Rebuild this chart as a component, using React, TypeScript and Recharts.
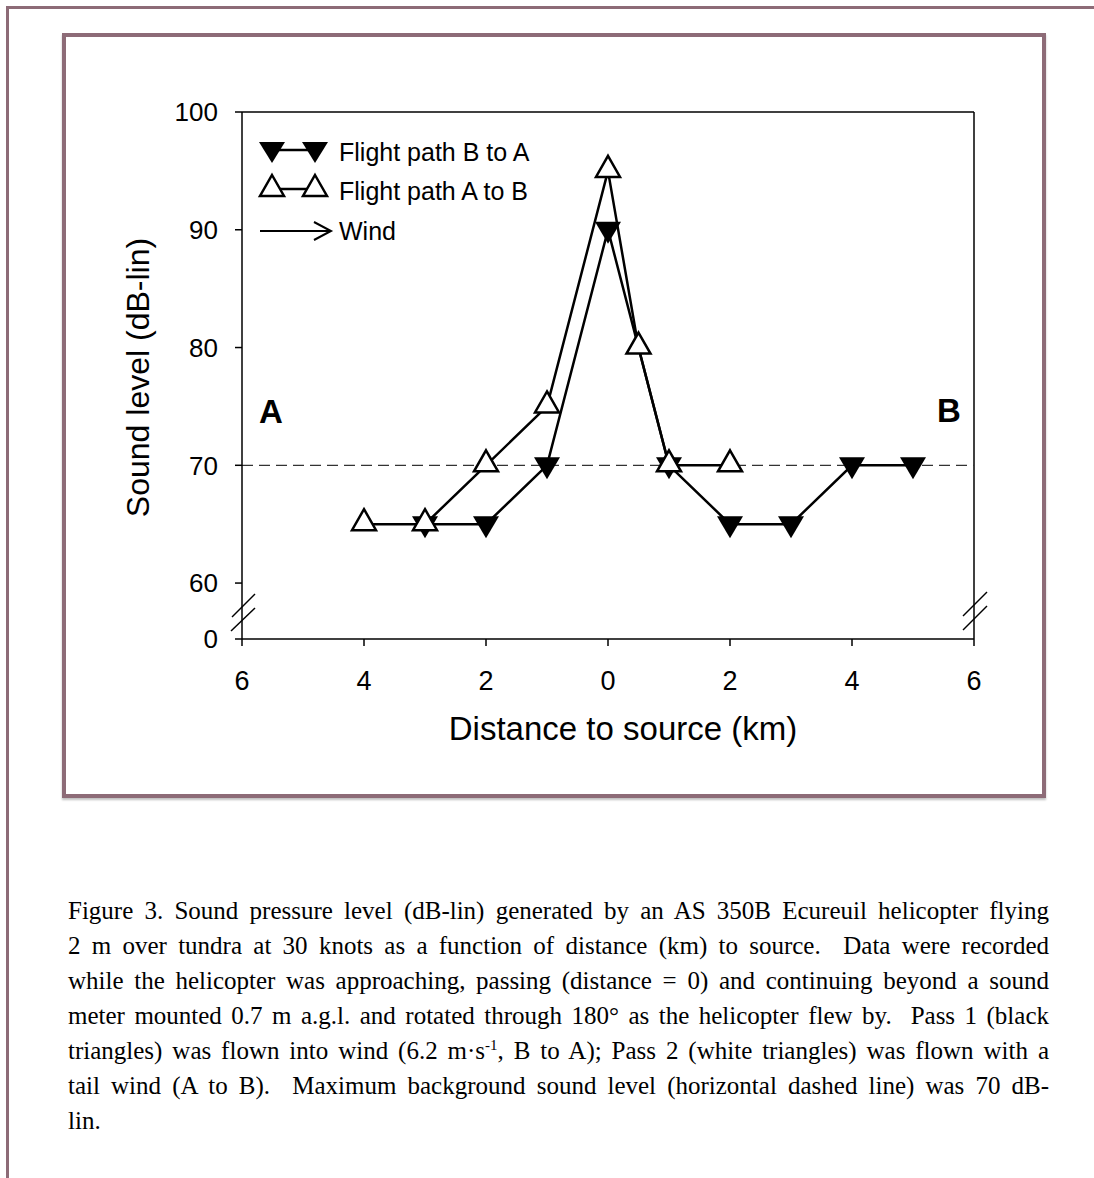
import React from 'react';
import { LineChart, Line, XAxis, YAxis, ReferenceLine, Label } from 'recharts';

// distance (km, negative = side A) and sound level (dB-lin)
const passBtoAKm = [-3, -2, -1, 0, 1, 2, 3, 4, 5];
const passBtoADb = [65, 65, 70, 90, 70, 65, 65, 70, 70];
const passAtoBKm = [-4, -3, -2, -1, 0, 0.5, 1, 2];
const passAtoBDb = [65, 65, 70, 75, 95, 80, 70, 70];

const xTicks = [-6, -4, -2, 0, 2, 4, 6];
const yBreak = 55.25; // bottom of the broken axis, labelled "0"
const yTicks = [yBreak, 60, 70, 80, 90, 100];
const backgroundLevel = 70;

const seriesBtoA = passBtoAKm.map((x, i) => ({ x, y: passBtoADb[i] }));
const seriesAtoB = passAtoBKm.map((x, i) => ({ x, y: passAtoBDb[i] }));

const SANS = '"Liberation Sans", Arial, sans-serif';
const FRAME = '#8d6b77';

const DownTri = (p: any) => {
  const { cx, cy } = p;
  if (cx == null || cy == null) return <g key={p.index} />;
  return <path key={`d${p.index}`} d={`M${cx - 13},${cy - 8}L${cx + 13},${cy - 8}L${cx},${cy + 14}Z`} fill="#000" />;
};

const UpTri = (p: any) => {
  const { cx, cy } = p;
  if (cx == null || cy == null) return <g key={p.index} />;
  return (
    <path
      key={`u${p.index}`}
      d={`M${cx},${cy - 15}L${cx + 12},${cy + 6}L${cx - 12},${cy + 6}Z`}
      fill="#fff"
      stroke="#000"
      strokeWidth={2.5}
      strokeLinejoin="miter"
    />
  );
};

const YTitle = (props: any) => {
  const vb = props.viewBox || { x: 162, y: 112, width: 80, height: 527 };
  const cx = vb.x - 24;
  const cy = vb.y + vb.height / 2 + 2;
  return (
    <text x={cx} y={cy} transform={`rotate(-90 ${cx} ${cy})`} textAnchor="middle" dominantBaseline="central" fontSize={32} fontFamily={SANS} fill="#000">
      Sound level (dB-lin)
    </text>
  );
};

const XTitle = (props: any) => {
  const vb = props.viewBox || { x: 242, y: 639, width: 732, height: 60 };
  return (
    <text x={vb.x + vb.width / 2 + 15} y={vb.y + 101} textAnchor="middle" fontSize={33} fontFamily={SANS} fill="#000">
      Distance to source (km)
    </text>
  );
};

function Overlay() {
  const tri = (cx: number, cy: number, up: boolean) =>
    up ? (
      <path d={`M${cx},${cy - 14}L${cx + 12},${cy + 7}L${cx - 12},${cy + 7}Z`} fill="#fff" stroke="#000" strokeWidth={2.5} />
    ) : (
      <path d={`M${cx - 13},${cy - 8}L${cx + 13},${cy - 8}L${cx},${cy + 13}Z`} fill="#000" />
    );
  return (
    <svg width={1094} height={800} style={{ position: 'absolute', left: 0, top: 0, pointerEvents: 'none' }}>
      <g fontFamily={SANS} fontSize={25} fill="#000">
        <line x1={272} y1={150} x2={315} y2={150} stroke="#000" strokeWidth={2.5} />
        {tri(272, 150, false)}
        {tri(315, 150, false)}
        <text x={339} y={161}>Flight path B to A</text>
        <line x1={272} y1={189} x2={315} y2={189} stroke="#000" strokeWidth={2.5} />
        {tri(272, 189, true)}
        {tri(315, 189, true)}
        <text x={339} y={200}>Flight path A to B</text>
        <line x1={260} y1={231} x2={330} y2={231} stroke="#000" strokeWidth={2} />
        <polyline points="314,222 331,231 314,240" fill="none" stroke="#000" strokeWidth={2} />
        <text x={339} y={240}>Wind</text>
      </g>
      <g fontFamily={SANS} fontSize={33} fontWeight="bold" fill="#000" textAnchor="middle">
        <text x={271} y={423}>A</text>
        <text x={949} y={422}>B</text>
      </g>
      <g stroke="#000" strokeWidth={1.5}>
        <line x1={232} y1={617} x2={255} y2={594} />
        <line x1={231} y1={631} x2={255} y2={608} />
        <line x1={963} y1={616} x2={987} y2={592} />
        <line x1={963} y1={630} x2={987} y2={606} />
      </g>
    </svg>
  );
}

const captionLines = [
  'Figure 3. Sound pressure level (dB-lin) generated by an AS 350B Ecureuil helicopter flying',
  '2 m over tundra at 30 knots as a function of distance (km) to source.\u00a0 Data were recorded',
  'while the helicopter was approaching, passing (distance = 0) and continuing beyond a sound',
  'meter mounted 0.7 m a.g.l. and rotated through 180° as the helicopter flew by.\u00a0 Pass 1 (black',
];

export default function App() {
  const lineStyle: React.CSSProperties = {
    whiteSpace: 'nowrap',
    textAlign: 'justify',
    textAlignLast: 'justify',
    height: 35,
  };
  return (
    <div style={{ position: 'absolute', left: 0, top: 0, width: 1094, height: 1178, overflow: 'hidden', background: '#fff' }}>
      <div style={{ position: 'absolute', left: 6, top: 6, width: 1200, height: 1300, borderTop: `3px solid ${FRAME}`, borderLeft: `3px solid ${FRAME}` }} />
      <div
        style={{
          position: 'absolute',
          left: 62,
          top: 33,
          width: 984,
          height: 765,
          boxSizing: 'border-box',
          border: `4px solid ${FRAME}`,
          boxShadow: '0 2px 2px rgba(0,0,0,0.25)',
        }}
      />
      <div style={{ position: 'absolute', left: 0, top: 0 }}>
        <LineChart width={1094} height={800} margin={{ top: 112, right: 120, bottom: 101, left: 162 }}>
          <XAxis
            dataKey="x"
            type="number"
            domain={[-6, 6]}
            ticks={xTicks}
            tickFormatter={(v: number) => String(Math.abs(v))}
            allowDataOverflow
            height={60}
            tick={{ fill: '#000', fontSize: 27, fontFamily: SANS }}
            tickSize={7}
            tickMargin={25}
            axisLine={{ stroke: '#000', strokeWidth: 1.5 }}
            tickLine={{ stroke: '#000', strokeWidth: 1.5 }}
          >
            <Label content={<XTitle />} />
          </XAxis>
          <YAxis
            dataKey="y"
            type="number"
            domain={[yBreak, 100]}
            ticks={yTicks}
            tickFormatter={(v: number) => (v === yBreak ? '0' : String(v))}
            allowDataOverflow
            width={80}
            tick={{ fill: '#000', fontSize: 26, fontFamily: SANS }}
            tickSize={7}
            tickMargin={17}
            axisLine={{ stroke: '#000', strokeWidth: 1.5 }}
            tickLine={{ stroke: '#000', strokeWidth: 1.5 }}
          >
            <Label content={<YTitle />} />
          </YAxis>
          <ReferenceLine y={100} stroke="#000" strokeWidth={1.5} />
          <ReferenceLine x={6} stroke="#000" strokeWidth={1.5} />
          <ReferenceLine y={backgroundLevel} stroke="#333" strokeWidth={1.2} strokeDasharray="11 6" />
          <Line
            data={seriesBtoA}
            dataKey="y"
            type="linear"
            stroke="#000"
            strokeWidth={2.5}
            dot={DownTri}
            activeDot={false}
            isAnimationActive={false}
          />
          <Line
            data={seriesAtoB}
            dataKey="y"
            type="linear"
            stroke="#000"
            strokeWidth={2.5}
            dot={UpTri}
            activeDot={false}
            isAnimationActive={false}
          />
        </LineChart>
        <Overlay />
      </div>
      <div
        style={{
          position: 'absolute',
          left: 68,
          top: 893,
          width: 981,
          fontFamily: '"Liberation Serif", "Times New Roman", serif',
          fontSize: 25,
          lineHeight: '35px',
          color: '#000',
        }}
      >
        {captionLines.map((l, i) => (
          <div key={i} style={lineStyle}>{l}</div>
        ))}
        <div style={lineStyle}>
          triangles) was flown into wind (6.2 m·s<sup style={{ fontSize: 15, lineHeight: 0 }}>-1</sup>, B to A); Pass 2 (white triangles) was flown with a
        </div>
        <div style={lineStyle}>tail wind (A to B).&nbsp; Maximum background sound level (horizontal dashed line) was 70 dB-</div>
        <div style={{ height: 35 }}>lin.</div>
      </div>
    </div>
  );
}
